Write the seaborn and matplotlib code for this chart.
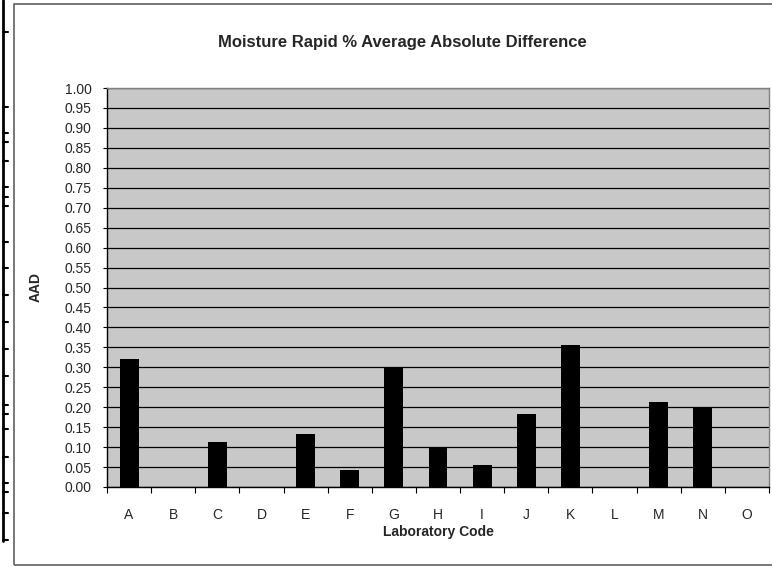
import matplotlib
matplotlib.use("Agg")
import matplotlib.pyplot as plt
from matplotlib.lines import Line2D
from matplotlib.patches import Rectangle
import numpy as np
import pandas as pd
import seaborn as sns

# data
labs = list("ABCDEFGHIJKLMNO")
aad = [0.322, 0.0, 0.112, 0.0, 0.132, 0.042, 0.300, 0.097, 0.054, 0.183,
       0.355, 0.0, 0.213, 0.197, 0.0]
y_ticks = [round(0.05 * i, 2) for i in range(21)]

sns.set_style("white")
plt.rcParams['font.family'] = ['Liberation Sans', 'DejaVu Sans']

df = pd.DataFrame({'lab': labs, 'aad': aad})

fig = plt.figure(figsize=(7.72, 5.67), dpi=100)
ax = fig.add_axes([107 / 772, 1 - 487 / 567, 662 / 772, 399 / 567])
ax.set_facecolor('#C8C8C8')

sns.barplot(data=df, x='lab', y='aad', color='black', width=0.43,
            saturation=1, edgecolor='black', linewidth=0, ax=ax, zorder=3)

ax.set_ylim(0, 1.0)
ax.set_xlim(-0.5, len(labs) - 0.5)
ax.set_yticks(y_ticks)
ax.set_yticklabels([f"{v:.2f}" for v in y_ticks], fontsize=10)
ax.yaxis.grid(True, color='black', linewidth=0.9)
ax.set_axisbelow(True)
ax.tick_params(axis='y', which='major', left=True, length=3, width=0.8,
               color='black', pad=8)

# x ticks sit between categories
ax.set_xticks(np.arange(len(labs)))
ax.set_xticklabels(labs, fontsize=10)
ax.set_xticks(np.arange(len(labs) + 1) - 0.5, minor=True)
ax.tick_params(axis='x', which='major', length=0, pad=15)
ax.tick_params(axis='x', which='minor', bottom=True, length=4, width=0.8,
               color='black')

for side in ['top', 'right']:
    ax.spines[side].set_color('#808080')
    ax.spines[side].set_linewidth(1.0)
for side in ['left', 'bottom']:
    ax.spines[side].set_color('black')
    ax.spines[side].set_linewidth(1.0)

ax.set_xlabel('Laboratory Code', fontsize=10, fontweight='bold', labelpad=2)
ax.set_ylabel('AAD', fontsize=10, fontweight='bold')
ax.yaxis.set_label_coords(-0.097, 0.5)
fig.text(402 / 772, 1 - 42 / 567,
         'Moisture Rapid % Average Absolute Difference',
         ha='center', va='center', fontsize=12, fontweight='bold')

# outer chart frame
fig.add_artist(Rectangle((14 / 772, 1 - 565 / 567), 800 / 772, 561 / 567,
                         transform=fig.transFigure, fill=False,
                         edgecolor='#606060', linewidth=1.2))

# cut-off axis of a neighbouring chart on the left edge
fig.add_artist(Line2D([3 / 772, 3 / 772], [1.0, 1 - 541 / 567],
                      transform=fig.transFigure, color='black', linewidth=2))
for yy in [32, 107, 133, 142, 161, 187, 197, 206, 242, 268, 295, 322, 349,
           376, 405, 414, 429, 457, 483, 492, 513, 540]:
    fig.add_artist(Line2D([3 / 772, 8 / 772], [1 - yy / 567, 1 - yy / 567],
                          transform=fig.transFigure, color='black',
                          linewidth=1.5))

fig.savefig('out.png', dpi=100)
